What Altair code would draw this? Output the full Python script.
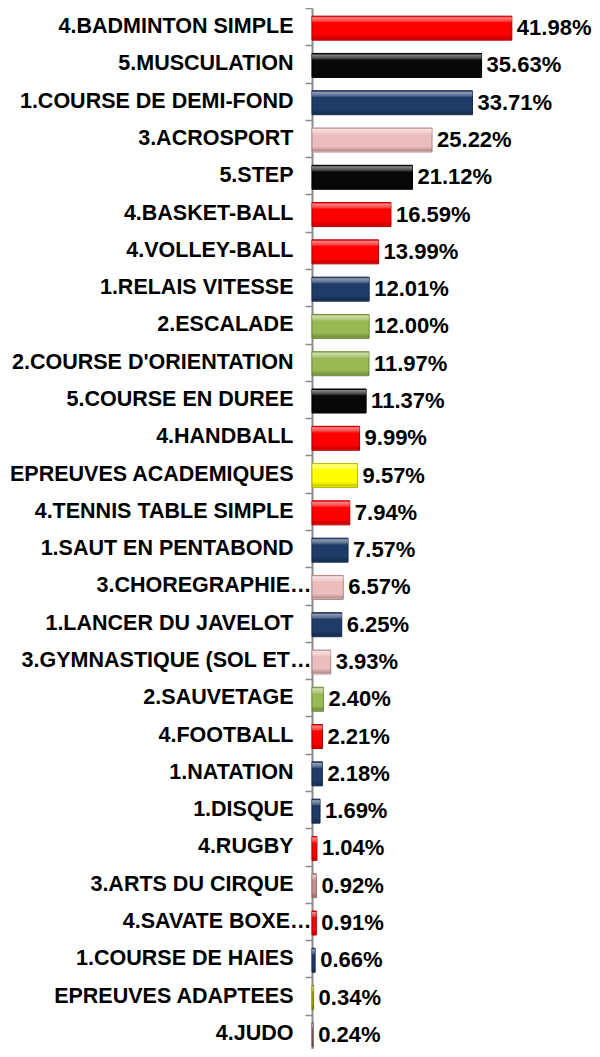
import altair as alt
import pandas as pd

categories = [
    "4.BADMINTON SIMPLE", "5.MUSCULATION", "1.COURSE DE DEMI-FOND", "3.ACROSPORT",
    "5.STEP", "4.BASKET-BALL", "4.VOLLEY-BALL", "1.RELAIS VITESSE", "2.ESCALADE",
    "2.COURSE D'ORIENTATION", "5.COURSE EN DUREE", "4.HANDBALL", "EPREUVES ACADEMIQUES",
    "4.TENNIS TABLE SIMPLE", "1.SAUT EN PENTABOND", "3.CHOREGRAPHIE…", "1.LANCER DU JAVELOT",
    "3.GYMNASTIQUE (SOL ET…", "2.SAUVETAGE", "4.FOOTBALL", "1.NATATION", "1.DISQUE",
    "4.RUGBY", "3.ARTS DU CIRQUE", "4.SAVATE BOXE…", "1.COURSE DE HAIES",
    "EPREUVES ADAPTEES", "4.JUDO",
]
values = [41.98, 35.63, 33.71, 25.22, 21.12, 16.59, 13.99, 12.01, 12.00, 11.97, 11.37,
          9.99, 9.57, 7.94, 7.57, 6.57, 6.25, 3.93, 2.40, 2.21, 2.18, 1.69, 1.04, 0.92,
          0.91, 0.66, 0.34, 0.24]
groups = ["rouge", "noir", "bleu", "rose", "noir", "rouge", "rouge", "bleu", "vert", "vert",
          "noir", "rouge", "jaune", "rouge", "bleu", "rose", "bleu", "rose", "vert", "rouge",
          "bleu", "bleu", "rouge", "rose2", "rouge", "bleu", "olive", "brun"]

group_names = ["rouge", "noir", "bleu", "rose", "vert", "jaune", "olive", "rose2", "brun"]
group_fill = ["#FF0000", "#080808", "#1F3B68", "#EBBDBC", "#98B954", "#FFFF00", "#B5AE00", "#C8918F", "#9C6B6B"]
group_stroke = ["#B00000", "#000000", "#15294A", "#B08888", "#6E8A38", "#B8B800", "#808000", "#9A6C6A", "#6E4848"]

df = pd.DataFrame({"cat": categories, "val": values, "grp": groups})
df["label"] = df["val"].map(lambda v: f"{v:.2f}%")

y = alt.Y("cat:N", sort=None, title=None,
          scale=alt.Scale(paddingInner=0, paddingOuter=0, range=[0, 1044]),
          axis=alt.Axis(domainColor="#8C8C8C", domainWidth=2, tickColor="#8C8C8C",
                        tickWidth=1.5, tickSize=7, tickBand="extent",
                        labelFont="Liberation Sans", labelFontWeight="bold",
                        labelFontSize=21.5, labelColor="#000000",
                        labelPadding={"condition": {"test": "indexof(datum.label, '…') >= 0", "value": -6},
                                      "value": 12},
                        labelLimit=400))
x = alt.X("val:Q", scale=alt.Scale(domain=[0, 50], nice=False, zero=True), axis=None)

bars = alt.Chart(df).mark_bar(size=24, strokeWidth=1, yOffset=1.5).encode(
    x=x, y=y,
    color=alt.Color("grp:N", scale=alt.Scale(domain=group_names, range=group_fill), legend=None),
    stroke=alt.Stroke("grp:N", scale=alt.Scale(domain=group_names, range=group_stroke), legend=None),
)

shine = alt.Chart(df).mark_bar(
    size=22, yOffset=1.5,
    color=alt.Gradient(
        gradient="linear", x1=0, x2=0, y1=0, y2=1,
        stops=[
            alt.GradientStop(offset=0, color="rgba(255,255,255,0.55)"),
            alt.GradientStop(offset=0.18, color="rgba(255,255,255,0.25)"),
            alt.GradientStop(offset=0.26, color="rgba(255,255,255,0)"),
            alt.GradientStop(offset=0.8, color="rgba(0,0,0,0)"),
            alt.GradientStop(offset=1, color="rgba(0,0,0,0.25)"),
        ],
    ),
).encode(x=x, y=y)

text = alt.Chart(df).mark_text(
    align="left", baseline="middle", dx=5, dy=1.5, font="Liberation Sans",
    fontWeight="bold", fontSize=22, color="#000000",
).encode(x=x, y=y, text="label:N")

chart = alt.layer(bars, shine, text).properties(
    width=238, height=1041,
    autosize=alt.AutoSizeParams(type="none"),
    padding={"left": 304, "top": 0, "right": 42, "bottom": 0},
).configure_view(strokeWidth=0)

chart.save("out.html", embed_options={"renderer": "svg", "actions": False})
